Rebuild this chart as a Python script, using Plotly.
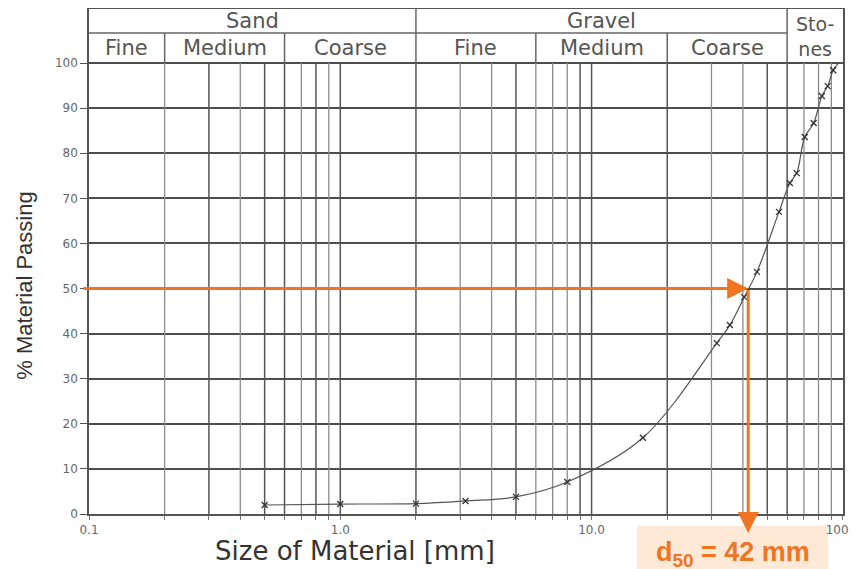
import math
import plotly.graph_objects as go

# ---- data ----
sizes_mm = [0.5, 1.0, 2.0, 3.15, 5.0, 8.0, 16.0, 31.5, 35.5, 40.5, 45.5, 55.7,
            61.5, 65.5, 70.5, 76.5, 82.5, 87.0, 91.5]
passing_pct = [2.0, 2.2, 2.3, 2.9, 3.8, 7.1, 16.9, 37.9, 41.9, 48.1, 53.7, 67.0,
               73.4, 75.6, 83.6, 86.7, 92.7, 94.9, 98.4]
curve_end = (96.0, 100.0)
d50_mm = 42
d50_pct = 50

x_major_ticks = [0.1, 1, 10, 100]
x_major_text = ["0.1", "1.0", "10.0", "100.0"]
y_ticks = [0, 10, 20, 30, 40, 50, 60, 70, 80, 90, 100]

dark_grid = [0.3, 0.5, 0.6, 0.8, 1, 2, 5, 9, 10, 20, 50, 60]
light_grid = [0.2, 0.4, 0.7, 0.9, 3, 4, 6, 7, 8, 30, 40, 70, 80, 90]

# header classification
main_classes = [("Sand", 0.1, 2.0), ("Gravel", 2.0, 60.0)]
sub_classes = [("Fine", 0.1, 0.2), ("Medium", 0.2, 0.6), ("Coarse", 0.6, 2.0),
               ("Fine", 2.0, 6.0), ("Medium", 6.0, 20.0), ("Coarse", 20.0, 60.0)]
stones = ("Sto-<br>nes", 60.0, 100.0)

Y_TOP = 112.0
Y_ROW = 106.7
Y_HDR = 100.0

ORANGE = "#f07522"
GRID_DARK = "#555555"
GRID_LIGHT = "#8c8c8c"
HDR_FONT = dict(family="DejaVu Sans", size=21, color="#555555")

fig = go.Figure()


def vlines(xs, y0, y1):
    X, Y = [], []
    for x in xs:
        X += [x, x, None]
        Y += [y0, y1, None]
    return X, Y


X, Y = vlines(light_grid, 0, Y_HDR)
fig.add_trace(go.Scatter(x=X, y=Y, mode="lines", line=dict(color=GRID_LIGHT, width=1.3),
                         hoverinfo="skip", showlegend=False))
X, Y = vlines(dark_grid, 0, Y_HDR)
fig.add_trace(go.Scatter(x=X, y=Y, mode="lines", line=dict(color=GRID_DARK, width=1.5),
                         hoverinfo="skip", showlegend=False))

# header lines
hx, hy = vlines([2.0, 60.0], Y_HDR, Y_TOP)
sx, sy = vlines([0.2, 0.6, 6.0, 20.0], Y_HDR, Y_ROW)
hx += sx + [0.1, 60.0, None]
hy += sy + [Y_ROW, Y_ROW, None]
fig.add_trace(go.Scatter(x=hx, y=hy, mode="lines", line=dict(color="#666666", width=1.5),
                         hoverinfo="skip", showlegend=False))

# grading curve
fig.add_trace(go.Scatter(x=sizes_mm + [curve_end[0]], y=passing_pct + [curve_end[1]],
                         mode="lines", line=dict(color="#555555", width=1.2, shape="spline"),
                         hoverinfo="skip", showlegend=False))
fig.add_trace(go.Scatter(x=sizes_mm, y=passing_pct, mode="markers",
                         marker=dict(symbol="x-thin", size=6,
                                     line=dict(color="#333333", width=1.3)),
                         showlegend=False))

annotations = []
for name, a, b in main_classes:
    annotations.append(dict(x=(math.log10(a) + math.log10(b)) / 2, y=(Y_ROW + Y_TOP) / 2,
                            xref="x", yref="y", text=name, showarrow=False, font=HDR_FONT))
for name, a, b in sub_classes:
    annotations.append(dict(x=(math.log10(a) + math.log10(b)) / 2, y=(Y_HDR + Y_ROW) / 2,
                            xref="x", yref="y", text=name, showarrow=False, font=HDR_FONT))
annotations.append(dict(x=(math.log10(stones[1]) + math.log10(stones[2])) / 2,
                        y=(Y_HDR + Y_TOP) / 2, xref="x", yref="y", text=stones[0],
                        showarrow=False, font=dict(family="DejaVu Sans", size=19, color="#555555")))

# d50 arrows
annotations.append(dict(x=math.log10(d50_mm), y=d50_pct, xref="x", yref="y",
                        ax=-1.028, ay=d50_pct, axref="x", ayref="y", text="",
                        showarrow=True, arrowhead=2, arrowsize=1.4, arrowwidth=3,
                        arrowcolor=ORANGE))
annotations.append(dict(x=math.log10(d50_mm), y=-4.2, xref="x", yref="y",
                        ax=math.log10(d50_mm), ay=d50_pct, axref="x", ayref="y", text="",
                        showarrow=True, arrowhead=2, arrowsize=1.4, arrowwidth=3,
                        arrowcolor=ORANGE))

# titles
annotations.append(dict(x=-0.085, y=0.452, xref="paper", yref="paper", text="% Material Passing",
                        textangle=-90, showarrow=False, xanchor="center", yanchor="middle",
                        font=dict(family="Liberation Sans", size=22, color="#333333")))
annotations.append(dict(x=0.353, y=-0.074, xref="paper", yref="paper",
                        text="Size of Material [mm]", showarrow=False,
                        xanchor="center", yanchor="middle",
                        font=dict(family="DejaVu Sans", size=26, color="#333333")))
annotations.append(dict(x=0.854, y=-0.080, xref="paper", yref="paper",
                        text="<b>d<sub>50</sub> = 42 mm</b>", showarrow=False,
                        xanchor="center", yanchor="middle",
                        font=dict(family="Liberation Sans", size=27, color=ORANGE)))

shapes = [dict(type="rect", xref="paper", yref="paper", x0=0.727, x1=0.980, y0=-0.125, y1=-0.024,
               fillcolor="#fde9d6", line=dict(width=0), layer="below")]

all_ticks = [0.1, 0.2, 0.3, 0.4, 0.5, 0.6, 0.7, 0.8, 0.9, 1, 2, 3, 4, 5, 6, 7, 8, 9,
             10, 20, 30, 40, 50, 60, 70, 80, 90, 100]
tick_text = [x_major_text[x_major_ticks.index(t)] if t in x_major_ticks else "" for t in all_ticks]

# page body has an 8px margin: shrink the figure so the plot lands where the reference has it
fig.update_layout(
    width=849, height=562,
    margin=dict(l=81, r=14, t=1, b=56),
    paper_bgcolor="white", plot_bgcolor="white",
    showlegend=False,
    annotations=annotations,
    shapes=shapes,
    xaxis=dict(type="log", range=[-1, 2.0005], tickvals=all_ticks, ticktext=tick_text,
               showgrid=False, zeroline=False, ticks="outside", ticklen=4,
               tickcolor="#777777", tickwidth=1.2, ticklabeloverflow="allow",
               showline=True, linecolor="#555555", linewidth=1.6, mirror=True,
               tickfont=dict(family="DejaVu Sans", size=12, color="#666666"),
               automargin=False, fixedrange=True),
    yaxis=dict(range=[0, Y_TOP], tickvals=y_ticks, showgrid=True, gridcolor="#4d4d4d",
               gridwidth=1.6, zeroline=False, ticks="outside", ticklen=7,
               tickcolor="#555555", tickwidth=1.4,
               showline=True, linecolor="#555555", linewidth=1.6, mirror=True,
               tickfont=dict(family="DejaVu Sans", size=12, color="#666666"),
               automargin=False, fixedrange=True),
)

fig.write_html("out.html")
